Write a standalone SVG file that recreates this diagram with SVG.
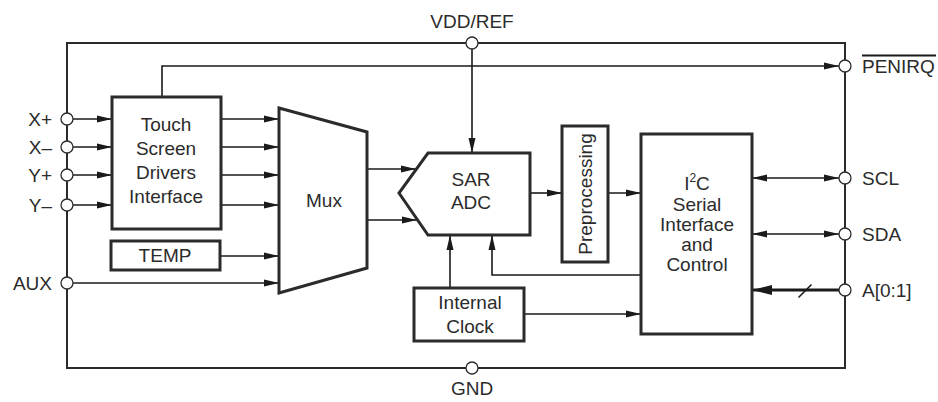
<svg xmlns="http://www.w3.org/2000/svg" width="938" height="402" viewBox="0 0 938 402">
<defs>
<style>
text{font-family:"Liberation Sans",Arial,sans-serif;font-size:19px;fill:#2b2b2b}
.c{text-anchor:middle}
.e{text-anchor:end}
.box{fill:#fff;stroke:#2b2b2b;stroke-width:3}
.frame{fill:none;stroke:#2b2b2b;stroke-width:2}
.w{fill:none;stroke:#1a1a1a;stroke-width:1.6}
.wb{fill:none;stroke:#1a1a1a;stroke-width:3.2}
.pin{fill:#fff;stroke:#2b2b2b;stroke-width:1.3}
</style>
<marker id="a" markerUnits="userSpaceOnUse" markerWidth="16" markerHeight="8" refX="15" refY="4" orient="auto-start-reverse" viewBox="0 0 16 8"><path d="M0,0.5 L15,4 L0,7.5 z" fill="#1a1a1a"/></marker>
<marker id="ab" markerUnits="userSpaceOnUse" markerWidth="21" markerHeight="11" refX="20" refY="5.5" orient="auto" viewBox="0 0 21 11"><path d="M0,0.5 L20,5.5 L0,10.5 z" fill="#1a1a1a"/></marker>
</defs>
<g id="frame">
<rect class="frame" x="67" y="43" width="778" height="325"/>
</g>
<g id="connectors">
<path class="w" d="M162,97 V66 H839" marker-end="url(#a)"/>
<path class="w" d="M73,119 H112" marker-end="url(#a)"/>
<path class="w" d="M73,147 H112" marker-end="url(#a)"/>
<path class="w" d="M73,175 H112" marker-end="url(#a)"/>
<path class="w" d="M73,205 H112" marker-end="url(#a)"/>
<path class="w" d="M221,119 H279" marker-end="url(#a)"/>
<path class="w" d="M221,147 H279" marker-end="url(#a)"/>
<path class="w" d="M221,175 H279" marker-end="url(#a)"/>
<path class="w" d="M221,205 H279" marker-end="url(#a)"/>
<path class="w" d="M220,256 H279" marker-end="url(#a)"/>
<path class="w" d="M73,283 H279" marker-end="url(#a)"/>
<path class="w" d="M367,169 H416" marker-end="url(#a)"/>
<path class="w" d="M367,220 H417" marker-end="url(#a)"/>
<path class="w" d="M472,49 V153" marker-end="url(#a)"/>
<path class="w" d="M450,288 V235" marker-end="url(#a)"/>
<path class="w" d="M641,275 H492 V235" marker-end="url(#a)"/>
<path class="w" d="M530,193 H562" marker-end="url(#a)"/>
<path class="w" d="M608,193 H641" marker-end="url(#a)"/>
<path class="w" d="M524,314 H641" marker-end="url(#a)"/>
<path class="w" d="M752,178 H839" marker-start="url(#a)" marker-end="url(#a)"/>
<path class="w" d="M752,234 H839" marker-start="url(#a)" marker-end="url(#a)"/>
<path class="wb" d="M839,290 H752" marker-end="url(#ab)"/>
<path class="w" d="M798.5,297.5 L811.5,284.5"/>
</g>
<g id="pins">
<circle class="pin" cx="472" cy="43" r="6"/>
<circle class="pin" cx="472" cy="368" r="6"/>
<circle class="pin" cx="67" cy="119" r="6"/>
<circle class="pin" cx="67" cy="147" r="6"/>
<circle class="pin" cx="67" cy="175" r="6"/>
<circle class="pin" cx="67" cy="205" r="6"/>
<circle class="pin" cx="67" cy="283" r="6"/>
<circle class="pin" cx="845" cy="66" r="6"/>
<circle class="pin" cx="845" cy="178" r="6"/>
<circle class="pin" cx="845" cy="234" r="6"/>
<circle class="pin" cx="845" cy="290" r="6"/>
<text class="c" x="472" y="28">VDD/REF</text>
<text class="c" x="472" y="395">GND</text>
<text class="e" x="52" y="126">X+</text>
<text class="e" x="52" y="154">X–</text>
<text class="e" x="52" y="182">Y+</text>
<text class="e" x="52" y="212">Y–</text>
<text class="e" x="52" y="290">AUX</text>
<text x="862" y="73">PENIRQ</text>
<path d="M862,55.5 H936" stroke="#1a1a1a" stroke-width="2"/>
<text x="862" y="185">SCL</text>
<text x="862" y="241">SDA</text>
<text x="862" y="297">A[0:1]</text>
</g>
<g id="touch">
<rect class="box" x="112" y="97" width="109" height="132"/>
<text class="c" x="166" y="131">Touch</text>
<text class="c" x="166" y="155">Screen</text>
<text class="c" x="166" y="179">Drivers</text>
<text class="c" x="166" y="203">Interface</text>
</g>
<g id="temp">
<rect class="box" x="111" y="241" width="109" height="29"/>
<text class="c" x="165" y="262">TEMP</text>
</g>
<g id="mux">
<path class="box" d="M279,108 L367,132 L367,268 L279,293 Z"/>
<text class="c" x="324" y="207">Mux</text>
</g>
<g id="adc">
<path class="box" d="M428,153 H530 V235 H428 L399,193 Z"/>
<text class="c" x="471" y="186">SAR</text>
<text class="c" x="471" y="209">ADC</text>
</g>
<g id="clock">
<rect class="box" x="414" y="288" width="110" height="53"/>
<text class="c" x="470" y="309">Internal</text>
<text class="c" x="470" y="333">Clock</text>
</g>
<g id="prep">
<rect class="box" x="562" y="126" width="46" height="136"/>
<text class="c" transform="translate(592,194) rotate(-90)">Preprocessing</text>
</g>
<g id="i2c">
<rect class="box" x="641" y="134" width="111" height="200"/>
<text class="c" x="697" y="190">I<tspan font-size="12" dy="-8">2</tspan><tspan dy="8">C</tspan></text>
<text class="c" x="697" y="211">Serial</text>
<text class="c" x="697" y="231">Interface</text>
<text class="c" x="697" y="251">and</text>
<text class="c" x="697" y="271">Control</text>
</g>
</svg>
